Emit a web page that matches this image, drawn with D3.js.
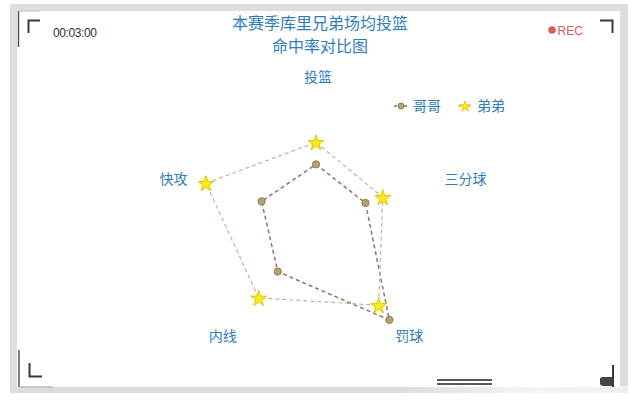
<!DOCTYPE html>
<html><head><meta charset="utf-8">
<script src="https://cdn.jsdelivr.net/npm/d3@7/dist/d3.min.js"></script>
<style>html,body{margin:0;padding:0;background:#fff;}svg{display:block;}</style>
</head><body>
<svg id="c" width="640" height="405"></svg>
<script>
const indicators = ["投篮", "三分球", "罚球", "内线", "快攻"];
const seriesNames = ["哥哥", "弟弟"];
const gegeValues = [42, 40, 96, 50, 44];
const didiValues = [59, 54, 82, 75, 89];
const maxValue = 100;
const titleLines = ["本赛季库里兄弟场均投篮", "命中率对比图"];
const timeText = "00:03:00";
const recText = "REC";

const svg = d3.select("#c");
const blue = "#2f7db8";
const font = "'Noto Sans CJK SC','Noto Sans',sans-serif";

// frame
const defs = svg.append("defs");
const g1 = defs.append("linearGradient").attr("id","bot").attr("x1","0").attr("x2","1");
g1.append("stop").attr("offset","0").attr("stop-color","#dcdcdc");
g1.append("stop").attr("offset","0.62").attr("stop-color","#dcdcdc");
g1.append("stop").attr("offset","0.85").attr("stop-color","#f4f4f4");
g1.append("stop").attr("offset","1").attr("stop-color","#eeeeee");
svg.append("rect").attr("x",10).attr("y",4).attr("width",618).attr("height",384).attr("fill","#dedede");
svg.append("rect").attr("x",10).attr("y",386).attr("width",618).attr("height",7).attr("fill","url(#bot)");
svg.append("rect").attr("x",17).attr("y",11).attr("width",603).attr("height",376).attr("fill","#fff");
const dark = "#3a3a3a";
svg.append("line").attr("x1",18.5).attr("y1",11).attr("x2",18.5).attr("y2",47).attr("stroke","#555").attr("stroke-width",1.5);
svg.append("line").attr("x1",18.5).attr("y1",11).attr("x2",40).attr("y2",11).attr("stroke","#bbb").attr("stroke-width",1);
svg.append("line").attr("x1",19).attr("y1",350).attr("x2",19).attr("y2",387).attr("stroke","#555").attr("stroke-width",1.5);
svg.append("line").attr("x1",19).attr("y1",387).attr("x2",53).attr("y2",387).attr("stroke","#bbb").attr("stroke-width",1.5);
svg.append("path").attr("d","M28.5,33 V20.5 H40").attr("fill","none").attr("stroke",dark).attr("stroke-width",2);
svg.append("path").attr("d","M600,20.5 H612.5 V33").attr("fill","none").attr("stroke",dark).attr("stroke-width",2);
svg.append("path").attr("d","M29.5,363 V376.5 H42").attr("fill","none").attr("stroke",dark).attr("stroke-width",2);
svg.append("line").attr("x1",613).attr("y1",365).attr("x2",613).attr("y2",387).attr("stroke",dark).attr("stroke-width",2);
svg.append("path").attr("d","M600,379 Q600,377 603,377 H612 V386 H603 Q600,386 600,383 Z").attr("fill","#444");
svg.append("line").attr("x1",437).attr("y1",380).attr("x2",492).attr("y2",380).attr("stroke","#222").attr("stroke-width",1.5);
svg.append("line").attr("x1",437).attr("y1",384).attr("x2",492).attr("y2",384).attr("stroke","#222").attr("stroke-width",1.5);

// header texts
svg.append("text").attr("x",53).attr("y",36.5).text(timeText)
  .attr("font-family","'Liberation Sans',Arial,sans-serif").attr("font-size",12).attr("letter-spacing","-0.4").attr("fill","#333");
svg.append("circle").attr("cx",552).attr("cy",30).attr("r",3.8).attr("fill","#d0625f");
svg.append("text").attr("x",557.5).attr("y",34.5).text(recText)
  .attr("font-family","'Liberation Sans',Arial,sans-serif").attr("font-size",12).attr("fill","#d0625f");

svg.selectAll("text.title").data(titleLines).join("text").attr("class","title")
  .attr("x",320).attr("y",(d,i)=>28.5+i*23.5).attr("text-anchor","middle")
  .attr("font-family",font).attr("font-size",16).attr("fill",blue).text(d=>d);

// radar
const cx = 316, cy = 219, R = 130;
const r = d3.scaleLinear().domain([0,maxValue]).range([0,R]);
const n = indicators.length;
const angle = i => -Math.PI/2 + i*2*Math.PI/n;
const pt = (v,i) => [cx + r(v)*Math.cos(angle(i)), cy + r(v)*Math.sin(angle(i))];

const rl = 135;
indicators.forEach((name,i)=>{
  const a = angle(i), c = Math.cos(a), s = Math.sin(a);
  const x = cx + rl*c, y = cy + rl*s;
  const anchor = c > 0.01 ? "start" : (c < -0.01 ? "end" : "middle");
  let dy;
  if (s < -0.5) dy = -2; else if (s > 0.5) dy = 13; else dy = 7;
  svg.append("text").attr("x", x + (anchor==="middle"?2:0)).attr("y", y+dy).attr("text-anchor",anchor)
    .attr("font-family",font).attr("font-size",14).attr("fill",blue).text(name);
});

const line = d3.line().curve(d3.curveLinearClosed);
const styles = [
  {stroke:"#8a7767", width:1.5},
  {stroke:"#c7b09f", width:1.2}
];
const allValues = [gegeValues, didiValues];
allValues.forEach((vals,k)=>{
  svg.append("path").attr("d", line(vals.map((v,i)=>pt(v,i))))
    .attr("fill","none").attr("stroke",styles[k].stroke).attr("stroke-width",styles[k].width)
    .attr("stroke-dasharray","4,3");
});
svg.selectAll("circle.ge").data(gegeValues).join("circle").attr("class","ge")
  .attr("cx",(d,i)=>pt(d,i)[0]).attr("cy",(d,i)=>pt(d,i)[1]).attr("r",3.6)
  .attr("fill","#b8a36a").attr("stroke","#8c7a55").attr("stroke-width",1);
const star = d3.symbol(d3.symbolStar).size(78);
svg.selectAll("path.di").data(didiValues).join("path").attr("class","di")
  .attr("d",star).attr("transform",(d,i)=>`translate(${pt(d,i)[0]},${pt(d,i)[1]+0.8})`)
  .attr("fill","#fbea1c").attr("stroke","#e3c400").attr("stroke-width",1);

// legend
const lg = svg.append("g");
const legX = [394, 458];
seriesNames.forEach((nm,k)=>{
  const x = legX[k], y = 106;
  lg.append("line").attr("x1",x).attr("y1",y).attr("x2",x+14).attr("y2",y)
    .attr("stroke",styles[k].stroke).attr("stroke-width",1.5).attr("stroke-dasharray","3,2");
  if (k===0) lg.append("circle").attr("cx",x+7).attr("cy",y).attr("r",3).attr("fill","#b8a36a").attr("stroke","#8c7a55");
  else lg.append("path").attr("d",d3.symbol(d3.symbolStar).size(36)).attr("transform",`translate(${x+7},${y+0.5})`).attr("fill","#fbea1c").attr("stroke","#e3c400").attr("stroke-width",0.8);
  lg.append("text").attr("x",x+19).attr("y",y+5).attr("font-family",font).attr("font-size",14).attr("fill",blue).text(nm);
});
</script>
</body></html>
